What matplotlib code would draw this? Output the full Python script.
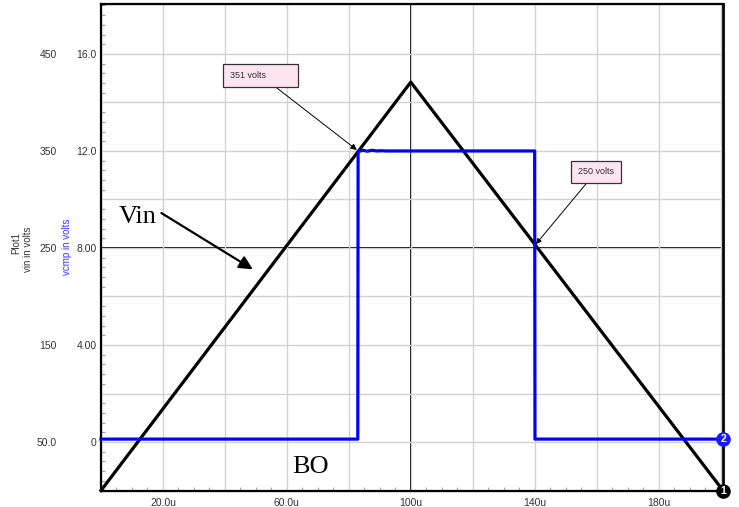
import matplotlib
matplotlib.use('Agg')
import matplotlib.pyplot as plt
from matplotlib.ticker import FixedLocator, FixedFormatter, MultipleLocator
import numpy as np

plt.rcParams['font.family'] = ['Liberation Sans', 'DejaVu Sans']

# data (time in us, volts)
t_vin = [0, 100, 200.8]
vin = [0, 421, 0]
t_vcmp = [0, 82.9, 83.0, 84.5, 86.0, 87.5, 89.0, 90.5, 92.0, 140.0, 140.1, 200.8]
vcmp = [0.12, 0.12, 11.97, 12.03, 11.99, 12.03, 12.0, 12.01, 12.0, 12.0, 0.12, 0.12]

x_grid = [20, 40, 60, 80, 100, 120, 140, 160, 180, 200]
x_labels = ['20.0u', '', '60.0u', '', '100u', '', '140u', '', '180u', '']
vin_grid = [50, 100, 150, 200, 250, 300, 350, 400, 450]
vin_labels = ['50.0', '', '150', '', '250', '', '350', '', '450']
vcmp_grid = [0, 2, 4, 6, 8, 10, 12, 14, 16]
vcmp_labels = ['0', '', '4.00', '', '8.00', '', '12.0', '', '16.0']

xlim = (0, 200.8)
vin_lim = (-0.5, 501.5)
vcmp_lim = ((vin_lim[0] - 50) / 25.0, (vin_lim[1] - 50) / 25.0)

fig = plt.figure(figsize=(7.39, 5.07), dpi=100)
ax = fig.add_axes([101 / 739, 16 / 507, 622 / 739, 487 / 507])
ax.set_xlim(*xlim)
ax.set_ylim(*vin_lim)

## grid and ticks
ax.xaxis.set_major_locator(FixedLocator(x_grid))
ax.xaxis.set_major_formatter(FixedFormatter(x_labels))
ax.yaxis.set_major_locator(FixedLocator(vin_grid))
ax.yaxis.set_major_formatter(FixedFormatter(vin_labels))
ax.xaxis.set_minor_locator(MultipleLocator(5))
ax.yaxis.set_minor_locator(MultipleLocator(10))
ax.grid(True, which='major', color='#d2d2d2', lw=1.0)
ax.tick_params(which='major', length=0, labelsize=7.5, labelcolor='#333333')
ax.tick_params(axis='y', which='major', pad=32)
ax.tick_params(axis='x', which='major', pad=5)
ax.tick_params(which='minor', direction='in', length=3, color='#a0a0a0', width=0.8)
ax.axvline(100, color='black', lw=1.4, zorder=1.5)
ax.axhline(250, color='black', lw=1.4, zorder=1.5)
for s in ax.spines.values():
  s.set_linewidth(1.6)
  s.set_color('black')
ax.spines['right'].set_color('#222222')
ax.spines['right'].set_linewidth(2.2)

ax.plot(t_vin, vin, color='black', lw=2.3, zorder=3, clip_on=False)

## second axis for vcmp
ax2 = ax.twinx()
ax2.set_ylim(*vcmp_lim)
ax2.yaxis.tick_left()
ax2.yaxis.set_major_locator(FixedLocator(vcmp_grid))
ax2.yaxis.set_major_formatter(FixedFormatter(vcmp_labels))
ax2.tick_params(which='major', length=0, labelsize=7.5, labelcolor='#333333', pad=3)
ax2.plot(t_vcmp, vcmp, color='#0000ff', lw=2.3, zorder=3, clip_on=False)

# end markers
ax2.plot([t_vcmp[-1]], [vcmp[-1]], 'o', color='#1a1aff', ms=9.5, clip_on=False, zorder=5)
ax2.text(t_vcmp[-1], vcmp[-1], '2', color='white', fontsize=7.5, fontweight='bold',
         ha='center', va='center', zorder=6, clip_on=False)
ax2.plot([t_vin[-1]], [(vin[-1] - 50) / 25.0], 'o', color='black', ms=9.5, clip_on=False, zorder=5)
ax2.text(t_vin[-1], (vin[-1] - 50) / 25.0, '1', color='white', fontsize=7.5, fontweight='bold',
         ha='center', va='center', zorder=6, clip_on=False)

## annotations
box = dict(boxstyle='square,pad=0.75', fc='#fde4ef', ec='#333333', lw=0.9)
ax2.annotate('351 volts          ', xy=(82.6, (351 - 50) / 25.0), xytext=(51.5, (428 - 50) / 25.0),
             fontsize=6.5, ha='center', va='center', bbox=box, zorder=7, color='#333333',
             arrowprops=dict(arrowstyle='-|>', color='black', lw=0.7, mutation_scale=9,
                             shrinkA=0, shrinkB=0))
ax2.annotate('250 volts', xy=(140.4, (254 - 50) / 25.0), xytext=(159.8, (328.5 - 50) / 25.0),
             fontsize=6.5, ha='center', va='center', bbox=box, zorder=7, color='#333333',
             arrowprops=dict(arrowstyle='-|>', color='black', lw=0.7, mutation_scale=8,
                             shrinkA=0, shrinkB=0))
ax2.annotate('', xy=(49.0, (228 - 50) / 25.0), xytext=(19.5, (286 - 50) / 25.0),
             arrowprops=dict(arrowstyle='-|>', color='black', lw=1.6, mutation_scale=20,
                             shrinkA=0, shrinkB=0), zorder=7)
ax2.text(5.6, (276 - 50) / 25.0, 'Vin', family=['Liberation Serif', 'DejaVu Serif'],
         fontsize=19, ha='left', va='baseline', zorder=7)
ax2.text(67.7, (24 - 50) / 25.0, 'BO', family=['Liberation Serif', 'DejaVu Serif'],
         fontsize=19, ha='center', va='center', zorder=7)

## axis titles
fig.text(16 / 739, 1 - 243 / 507, 'Plot1', rotation=90, fontsize=7, color='#333333',
         ha='center', va='center')
fig.text(28 / 739, 1 - 249 / 507, 'vin in volts', rotation=90, fontsize=7, color='#333333',
         ha='center', va='center')
fig.text(67 / 739, 1 - 247 / 507, 'vcmp in volts', rotation=90, fontsize=7, color='#3333ff',
         ha='center', va='center')

fig.savefig('out.png', dpi=100)
